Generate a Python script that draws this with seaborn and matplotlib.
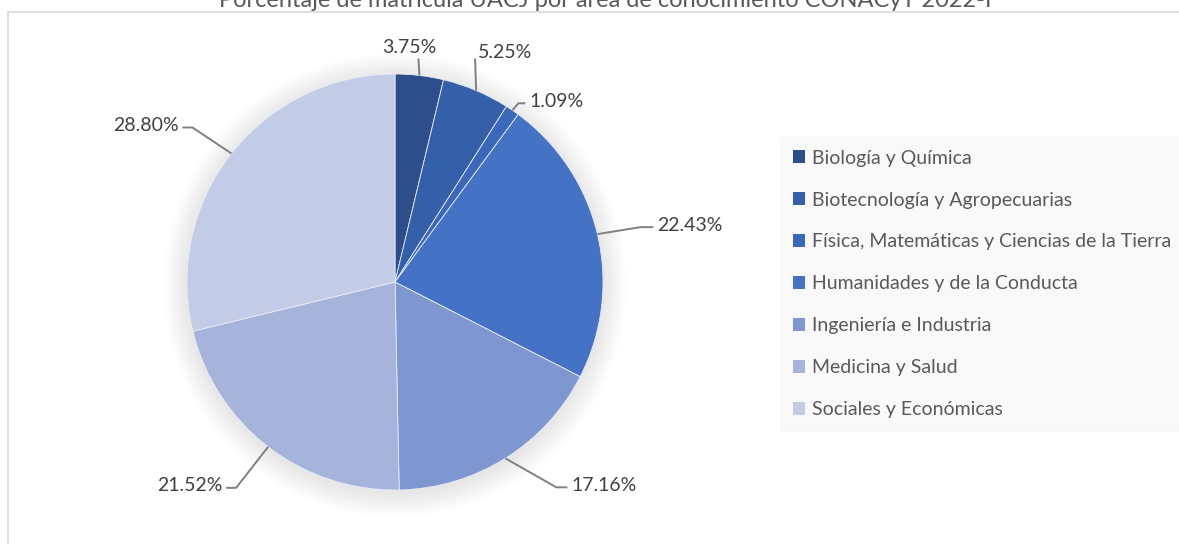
import numpy as np
import matplotlib
matplotlib.use('Agg')
import matplotlib.pyplot as plt
from matplotlib.patches import Circle, Rectangle
import seaborn as sns

sns.set_theme(style='white')
plt.rcParams['font.family'] = ['Lato', 'DejaVu Sans']

# Data
areas = ['Biología y Química', 'Biotecnología y Agropecuarias',
         'Física, Matemáticas y Ciencias de la Tierra', 'Humanidades y de la Conducta',
         'Ingeniería e Industria', 'Medicina y Salud', 'Sociales y Económicas']
porcentajes = [3.75, 5.25, 1.09, 22.43, 17.16, 21.52, 28.80]
colores = ['#2E4D8B', '#3460AA', '#3A69BC', '#4472C4', '#7F97D0', '#A6B4DB', '#C3CCE6']
titulo = 'Porcentaje de matrícula UACJ por área de conocimiento CONACyT 2022-I'

# leader line layout: elbow offset from wedge edge (px), tail length, text side
leader = [((-1, 17), 0, 'top'), ((-1, 32), 0, 'topright'), ((6, 7), 7, 'right'),
          ((43, 7), 13, 'right'), ((51, -29), 11, 'right'),
          ((-32, -41), -10, 'left'), ((-39, 26), -10, 'left')]

W, H = 1179, 544
fig = plt.figure(figsize=(W / 100, H / 100), dpi=100)
ax = fig.add_axes([0, 0, 1, 1])

cx, cy, R = 395, 262, 208

# soft shadow around the pie
for k in range(24, 0, -1):
    ax.add_patch(Circle((cx, cy - 3), R + k, color='black', alpha=0.005, lw=0, zorder=1))

wedges, _ = ax.pie(porcentajes, colors=colores, startangle=90, counterclock=False,
                   center=(cx, cy), radius=R, frame=True,
                   wedgeprops=dict(edgecolor='#E8ECF6', linewidth=0.6, zorder=2))
ax.set_xlim(0, W)
ax.set_ylim(0, H)
ax.axis('off')

# percentage labels with leader lines
for w, p, (el, tail, side) in zip(wedges, porcentajes, leader):
    ang = np.deg2rad((w.theta1 + w.theta2) / 2)
    ax0, ay0 = cx + R * np.cos(ang), cy + R * np.sin(ang)
    ex, ey = ax0 + el[0], ay0 + el[1]
    tx = ex + tail
    ax.plot([ax0, ex, tx], [ay0, ey, ey], color='#808080', lw=1.4,
            solid_capstyle='butt', zorder=3)
    lbl = f'{p:.2f}%'
    kw = dict(va='center', fontsize=14, color='#404040')
    if side == 'top':
        ax.text(ex - 9, ey + 11, lbl, ha='center', **kw)
    elif side == 'topright':
        ax.text(ex + 3, ey + 6, lbl, ha='left', **kw)
    elif side == 'right':
        ax.text(tx + 4, ey + 2, lbl, ha='left', **kw)
    else:
        ax.text(tx - 4, ey + 2, lbl, ha='right', **kw)

# chart border and title
fig.patches.append(Rectangle((8 / W, -0.1), 1.2, 1.1 - 11.5 / H, transform=fig.transFigure,
                             fill=False, edgecolor='#D9D9D9', lw=1.2, zorder=0))
fig.text(605 / W, 1 - 7 / H, titulo, ha='center', va='baseline', fontsize=17, color='#595959')

leg = ax.legend(wedges, areas, loc='upper left', bbox_to_anchor=(780 / W, 1 - 137 / H),
                bbox_transform=fig.transFigure, frameon=True, fancybox=False,
                facecolor='#F8F8F8', edgecolor='#F8F8F8', fontsize=14,
                labelspacing=1.28, handlelength=0.65, handleheight=0.65,
                handletextpad=0.35, borderpad=0.65, borderaxespad=0)
for t in leg.get_texts():
    t.set_color('#595959')
for h in leg.legend_handles:
    h.set_edgecolor('none')

fig.savefig('out.png', dpi=100)
